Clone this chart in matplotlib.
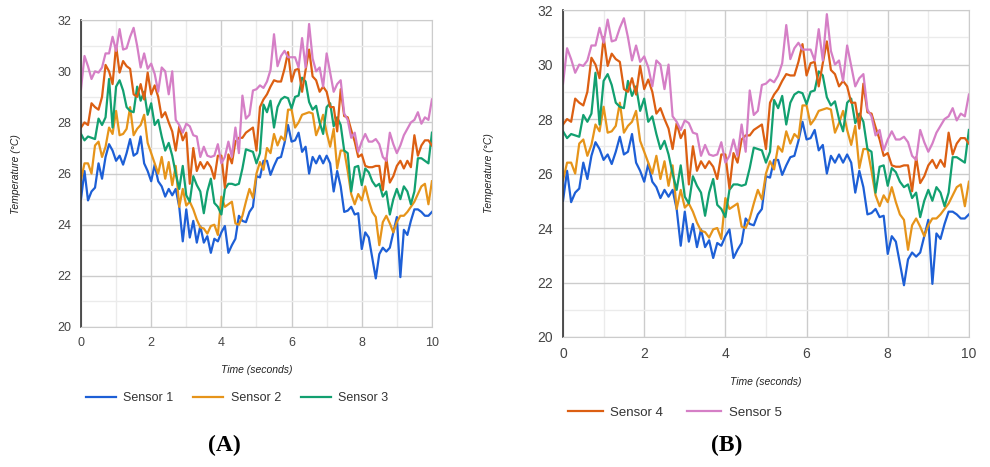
import matplotlib
matplotlib.use("Agg")
import matplotlib.pyplot as plt
import numpy as np

# Данные: время (с) и температура пяти датчиков, шаг 0.1 с

time_s = np.round(np.arange(0, 10.01, 0.1), 1)

sensor_1 = [25.0, 26.1, 24.95, 25.3, 25.45, 26.4, 25.8, 26.65, 27.15, 26.9,
            26.5, 26.7, 26.35, 26.8, 27.35, 26.7, 26.8, 27.45, 26.4, 26.1,
            25.7, 26.35, 25.7, 25.5, 25.1, 25.4, 25.15, 25.4, 24.7, 23.35,
            24.6, 23.5, 24.15, 23.3, 23.95, 23.3, 23.55, 22.9, 23.45, 23.35,
            23.7, 23.95, 22.9, 23.2, 23.45, 24.35, 24.15, 24.1, 24.5, 24.7,
            25.9, 25.85, 26.5, 26.5, 25.95, 26.3, 26.6, 26.65, 27.2, 27.9,
            27.25, 27.3, 27.6, 26.85, 27.05, 26.0, 26.65, 26.4, 26.7, 26.4,
            26.7, 26.4, 25.3, 26.1, 25.5, 24.5, 24.55, 24.7, 24.4, 24.45,
            23.05, 23.7, 23.5, 22.7, 21.9, 22.85, 23.1, 22.95, 23.1, 23.7,
            24.3, 21.95, 23.8, 23.6, 24.15, 24.6, 24.6, 24.5, 24.35, 24.35,
            24.5]

sensor_2 = [25.75, 26.4, 26.4, 26.0, 27.1, 27.25, 26.65, 27.05, 27.8, 27.55,
            28.45, 27.5, 27.55, 27.75, 28.6, 27.5, 27.75, 27.9, 28.3, 27.2,
            26.8, 26.4, 26.0, 26.65, 25.8, 26.45, 25.55, 26.3, 24.7, 25.4,
            24.75, 24.9, 24.6, 24.2, 23.9, 23.85, 23.65, 23.95, 24.0, 23.6,
            25.1, 24.7, 24.8, 24.9, 24.05, 24.0, 24.35, 24.9, 25.4, 25.05,
            26.0, 26.45, 26.15, 27.0, 26.8, 27.55, 27.1, 27.45, 27.3, 28.5,
            28.5, 27.8, 28.0, 28.3, 28.35, 28.4, 28.35, 27.5, 27.85, 28.3,
            27.6, 27.05, 27.75, 26.2, 26.9, 26.9, 26.1, 25.2, 24.8, 25.2,
            24.95, 25.5, 24.95, 24.5, 24.3, 23.2, 24.1, 24.35, 24.05, 23.7,
            24.1, 24.35, 24.35, 24.5, 24.7, 24.9, 25.2, 25.5, 25.6, 24.8,
            25.7]

sensor_3 = [27.55, 27.3, 27.45, 27.4, 27.35, 28.15, 27.9, 28.2, 29.7, 27.8,
            29.4, 29.65, 29.25, 28.6, 28.45, 28.4, 29.4, 28.85, 29.2, 28.3,
            28.75, 27.9, 28.1, 27.45, 26.9, 27.2, 26.7, 26.0, 25.4, 26.3,
            25.15, 24.9, 25.9, 25.55, 25.3, 24.45, 25.3, 25.8, 24.85, 24.7,
            24.4, 25.4, 25.6, 25.6, 25.55, 25.6, 26.2, 26.95, 26.9, 26.85,
            26.4, 26.8, 28.7, 28.4, 28.85, 27.8, 28.6, 28.9, 29.0, 28.95,
            28.55, 29.0, 29.05, 29.75, 29.6, 28.8, 28.5, 28.65, 28.0, 27.55,
            28.6, 28.75, 27.85, 28.2, 27.9, 26.9, 26.8, 25.3, 26.25, 26.3,
            25.55, 26.2, 26.05, 25.7, 25.5, 25.6, 25.1, 25.3, 24.4, 25.0,
            25.4, 25.0, 25.5, 25.3, 24.8, 25.3, 26.6, 26.6, 26.5, 26.4,
            27.6]

sensor_4 = [27.8, 28.0, 27.9, 28.75, 28.6, 28.5, 29.0, 30.25, 30.0, 29.5,
            31.0, 29.95, 30.4, 30.2, 30.1, 29.1, 29.0, 29.5, 28.9, 29.95,
            29.1, 29.45, 29.0, 28.2, 28.4, 28.0, 27.65, 26.9, 27.85, 27.3,
            27.6, 25.6, 27.0, 26.1, 26.45, 26.2, 26.45, 26.25, 25.8, 26.7,
            26.7, 25.45, 26.75, 26.4, 27.25, 27.4, 27.4, 27.6, 27.7, 27.8,
            26.9, 28.6, 28.9, 29.1, 29.4, 29.65, 29.6, 29.6, 30.1, 30.75,
            29.6, 30.05, 30.1, 29.2, 30.05, 30.85, 29.8, 29.65, 29.2, 29.4,
            29.2, 28.6, 28.6, 27.65, 29.3, 28.25, 28.2, 27.7, 27.25, 26.65,
            26.75, 26.3, 26.25, 26.25, 26.3, 26.3, 25.35, 26.6, 25.65, 25.9,
            26.3, 26.5, 26.2, 26.5, 26.25, 27.5, 26.7, 27.1, 27.3, 27.3,
            27.1]

sensor_5 = [29.3, 30.6, 30.2, 29.7, 30.0, 29.95, 30.15, 30.7, 30.7, 31.35,
            30.8, 31.65, 30.85, 30.9, 31.35, 31.7, 31.0, 30.15, 30.7, 30.1,
            30.3, 29.9, 29.2, 30.15, 30.0, 29.1, 30.0, 28.1, 27.9, 27.6,
            27.95, 27.85, 27.5, 27.45, 26.65, 27.05, 26.7, 26.65, 26.7, 27.15,
            26.4, 26.65, 27.25, 26.65, 27.8, 26.8, 29.05, 28.15, 28.3, 29.25,
            29.3, 29.45, 29.35, 29.6, 30.05, 31.45, 30.2, 30.6, 30.8, 30.55,
            30.55, 30.55, 30.15, 31.3, 30.15, 31.85, 30.5, 30.0, 30.15, 29.4,
            30.7, 29.95, 29.2, 29.5, 29.65, 28.35, 28.1, 27.4, 27.6, 26.85,
            27.25, 27.55, 27.25, 27.25, 27.35, 27.15, 26.65, 26.5, 27.6, 27.15,
            26.8, 27.1, 27.5, 27.75, 28.0, 28.1, 28.4, 27.95, 28.2, 28.1,
            28.9]

names = ["Sensor 1", "Sensor 2", "Sensor 3", "Sensor 4", "Sensor 5"]
series = [sensor_1, sensor_2, sensor_3, sensor_4, sensor_5]
colors = ["#1d5fd6", "#e6941a", "#12a070", "#dc5f12", "#d57fc6"]

x_ticks = [0, 2, 4, 6, 8, 10]
y_ticks = [20, 22, 24, 26, 28, 30, 32]

plt.rcParams['font.family'] = ['Liberation Sans', 'DejaVu Sans']


def draw_panel(ax, tick_size, ypad):
    lines = []
    for vals, name, col in zip(series, names, colors):
        ln, = ax.plot(time_s, vals, color=col, lw=1.6, label=name)
        lines.append(ln)
    ax.set_xlim(0, 10)
    ax.set_ylim(20, 32)
    ax.set_xticks(x_ticks)
    ax.set_yticks(y_ticks)
    ax.set_xticks(np.arange(1, 10, 2), minor=True)
    ax.set_yticks(np.arange(21, 32, 2), minor=True)
    ax.grid(which='major', color='#cccccc', lw=1.0)
    ax.grid(which='minor', color='#ebebeb', lw=1.0)
    ax.set_axisbelow(True)
    ax.tick_params(which='both', length=0, labelsize=tick_size,
                   labelcolor='#444444', pad=7)
    for side in ['top', 'right', 'bottom']:
        ax.spines[side].set_color('#cccccc')
    ax.spines['left'].set_color('#333333')
    ax.spines['left'].set_linewidth(1.2)
    ax.set_xlabel('Time (seconds)', fontsize=7.5, style='italic',
                  color='#222222', labelpad=12)
    ax.set_ylabel('Temperature (°C)', fontsize=7.5, style='italic',
                  color='#222222', labelpad=ypad)
    return lines


fig = plt.figure(figsize=(9.9, 4.67), dpi=100)

# Панель (A)
ax_a = fig.add_axes([0.0818, 0.2998, 0.3545, 0.657])
lines_a = draw_panel(ax_a, 9, 26)
fig.legend(handles=lines_a[:3], loc='center left', bbox_to_anchor=(0.075, 0.148),
           ncol=3, frameon=False, fontsize=9, handlelength=2.4,
           columnspacing=1.6, handletextpad=0.6, labelcolor='#333333')
fig.text(0.227, 0.035, '(A)', family='Liberation Serif', fontsize=17,
         fontweight='bold', ha='center')

# Панель (B)
ax_b = fig.add_axes([0.5687, 0.2784, 0.410, 0.700])
lines_b = draw_panel(ax_b, 10, 31)
fig.legend(handles=lines_b[3:], loc='center left', bbox_to_anchor=(0.562, 0.116),
           ncol=2, frameon=False, fontsize=9.5, handlelength=2.6,
           columnspacing=1.8, handletextpad=0.6, labelcolor='#333333')
fig.text(0.734, 0.035, '(B)', family='Liberation Serif', fontsize=17,
         fontweight='bold', ha='center')

fig.savefig('out.png', dpi=100, facecolor='white')
